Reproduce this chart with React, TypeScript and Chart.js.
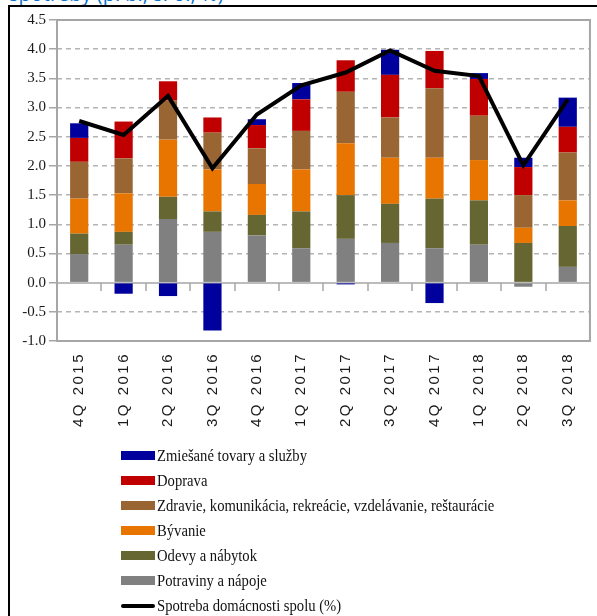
import React, { useEffect, useRef } from 'react';
import { Chart, registerables } from 'chart.js';

Chart.register(...registerables);

const categories = ['4Q 2015', '1Q 2016', '2Q 2016', '3Q 2016', '4Q 2016', '1Q 2017', '2Q 2017', '3Q 2017', '4Q 2017', '1Q 2018', '2Q 2018', '3Q 2018'];

const potravinyANapoje = [0.49, 0.65, 1.09, 0.87, 0.81, 0.59, 0.75, 0.68, 0.59, 0.65, -0.07, 0.27];
const odevyANabytok = [0.35, 0.22, 0.38, 0.35, 0.35, 0.63, 0.75, 0.67, 0.85, 0.76, 0.68, 0.70];
const byvanie = [0.60, 0.66, 0.98, 0.72, 0.53, 0.72, 0.89, 0.79, 0.70, 0.69, 0.26, 0.44];
const zdravieAtd = [0.63, 0.60, 0.67, 0.63, 0.61, 0.66, 0.88, 0.69, 1.19, 0.76, 0.56, 0.82];
const doprava = [0.41, 0.63, 0.33, 0.26, 0.40, 0.54, 0.54, 0.73, 0.64, 0.63, 0.48, 0.44];
const zmiesaneTovary = [0.25, -0.19, -0.23, -0.82, 0.10, 0.28, -0.03, 0.43, -0.35, 0.10, 0.16, 0.50];
const spotrebaSpolu = [2.77, 2.53, 3.20, 1.96, 2.88, 3.38, 3.60, 3.98, 3.63, 3.54, 2.01, 3.14];

const yMin = -1;
const yMax = 4.5;
const yStep = 0.5;

const titleText = 'spotreby (p. b., s. o., %)';

const barSeries = [
  { label: 'Potraviny a nápoje', data: potravinyANapoje, color: '#808080' },
  { label: 'Odevy a nábytok', data: odevyANabytok, color: '#666633' },
  { label: 'Bývanie', data: byvanie, color: '#E77500' },
  { label: 'Zdravie, komunikácia, rekreácie, vzdelávanie, reštaurácie', data: zdravieAtd, color: '#996633' },
  { label: 'Doprava', data: doprava, color: '#C00000' },
  { label: 'Zmiešané tovary a služby', data: zmiesaneTovary, color: '#00009C' },
];
const lineSeries = { label: 'Spotreba domácnosti spolu (%)', data: spotrebaSpolu, color: '#000000' };

const legendItems = [
  ...barSeries.slice().reverse().map((s) => ({ label: s.label, color: s.color, line: false })),
  { label: lineSeries.label, color: lineSeries.color, line: true },
];

export default function App() {
  const ref = useRef<HTMLCanvasElement>(null);

  useEffect(() => {
    const canvas = ref.current;
    if (!canvas) return;

    const framePlugin = {
      id: 'framePlugin',
      beforeDatasetsDraw(chart: any) {
        const { ctx, chartArea: a, scales } = chart;
        const x = scales.x;
        const y = scales.y;
        ctx.save();
        ctx.strokeStyle = '#A6A6A6';
        ctx.lineWidth = 2;
        ctx.strokeRect(a.left, a.top, a.right - a.left, a.bottom - a.top);
        const y0 = Math.round(y.getPixelForValue(0));
        ctx.lineWidth = 1.5;
        ctx.beginPath();
        ctx.moveTo(a.left, y0);
        ctx.lineTo(a.right, y0);
        for (let i = 0; i < categories.length - 1; i++) {
          const bx = Math.round((x.getPixelForValue(i) + x.getPixelForValue(i + 1)) / 2);
          ctx.moveTo(bx, y0);
          ctx.lineTo(bx, y0 + 8);
        }
        ctx.stroke();
        ctx.restore();
      },
      afterDatasetsDraw(chart: any) {
        chart.ctx.letterSpacing = '2.5px';
      },
      afterDraw(chart: any) {
        chart.ctx.letterSpacing = '0px';
      },
    };

    const chart = new Chart(canvas, {
      type: 'bar',
      data: {
        labels: categories,
        datasets: [
          {
            type: 'line',
            label: lineSeries.label,
            data: lineSeries.data,
            borderColor: lineSeries.color,
            backgroundColor: lineSeries.color,
            borderWidth: 4,
            pointRadius: 0,
            tension: 0,
            borderJoinStyle: 'miter',
            stack: 'line',
            order: 0,
          } as any,
          ...barSeries.map((s) => ({
            type: 'bar',
            label: s.label,
            data: s.data,
            backgroundColor: s.color,
            borderWidth: 0,
            stack: 'bars',
            order: 1,
            barPercentage: 1,
            categoryPercentage: 0.41,
          })) as any,
        ],
      },
      options: {
        responsive: false,
        animation: false,
        layout: { padding: { top: 20, right: 6, left: 0, bottom: 0 } },
        plugins: {
          legend: { display: false },
          tooltip: { enabled: false },
          title: { display: false },
        },
        scales: {
          x: {
            stacked: true,
            grid: { display: false, drawTicks: false },
            border: { display: false },
            ticks: {
              z: 1,
              autoSkip: false,
              maxRotation: 90,
              minRotation: 90,
              padding: 11,
              color: '#1a1a1a',
              font: { family: 'Liberation Sans', size: 15 },
            },
            afterFit: (s: any) => {
              s.height = 104;
            },
          },
          y: {
            stacked: true,
            min: yMin,
            max: yMax,
            border: { display: false, dash: [5, 4] },
            grid: {
              color: (c: any) => {
                const v = c.tick ? c.tick.value : null;
                return v === 0 || v === yMax || v === yMin ? 'rgba(0,0,0,0)' : '#B4B4B4';
              },
              lineWidth: 1.5,
              tickColor: '#A6A6A6',
              tickLength: 8,
              tickWidth: 1.5,
            },
            ticks: {
              stepSize: yStep,
              padding: 3,
              color: '#1a1a1a',
              font: { family: 'Liberation Serif', size: 15 },
              callback: (v: any) => Number(v).toFixed(1),
            },
            afterFit: (s: any) => {
              s.width = 57;
            },
          },
        },
      },
      plugins: [framePlugin],
    });

    return () => chart.destroy();
  }, []);

  return (
    <div style={{ position: 'fixed', left: 0, top: 0, width: 597, height: 616, overflow: 'hidden', background: '#fff' }}>
      <div
        style={{
          position: 'absolute',
          left: 9,
          top: -16,
          fontFamily: 'Open Sans',
          fontSize: 20,
          lineHeight: '20px',
          color: '#0A72C8',
          whiteSpace: 'nowrap',
        }}
      >
        {titleText}
      </div>
      <div
        style={{
          position: 'absolute',
          left: 8,
          top: 5,
          width: 700,
          height: 700,
          borderLeft: '2px solid #000',
          borderTop: '2px solid #000',
        }}
      />
      <canvas ref={ref} width={597} height={445} style={{ position: 'absolute', left: 0, top: 0, width: 597, height: 445 }} />
      <div style={{ position: 'absolute', left: 121, top: 443 }}>
        {legendItems.map((it) => (
          <div key={it.label} style={{ display: 'flex', alignItems: 'center', height: 25 }}>
            <span
              style={{
                display: 'inline-block',
                width: 34,
                height: it.line ? 4 : 9,
                borderRadius: it.line ? 2 : 0,
                background: it.color,
                marginRight: 2,
                flex: 'none',
              }}
            />
            <span
              style={{
                display: 'inline-block',
                fontFamily: 'Liberation Serif',
                fontSize: 16,
                color: '#111',
                whiteSpace: 'nowrap',
                transform: 'scaleX(0.915)',
                transformOrigin: 'left center',
              }}
            >
              {it.label}
            </span>
          </div>
        ))}
      </div>
    </div>
  );
}
